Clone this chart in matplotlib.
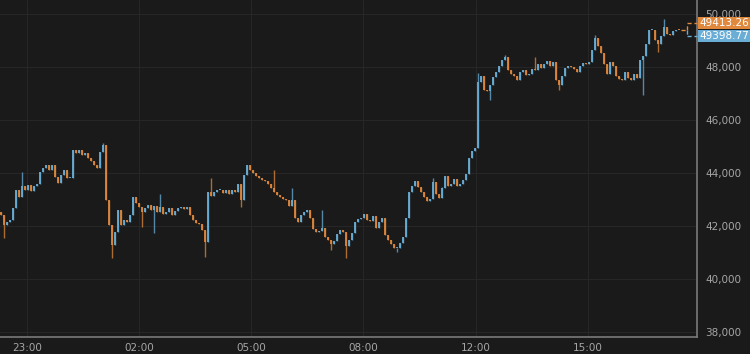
import matplotlib
matplotlib.use('Agg')
import matplotlib.pyplot as plt
from matplotlib.lines import Line2D
from matplotlib.patches import Rectangle

# close price of each candle (open = previous close)
closes = [
    42420, 42040, 42150, 42230, 42680, 43360, 43100, 43510, 43360, 43550,
    43320, 43510, 43590, 44040, 44190, 44300, 44110, 44300, 43850, 43620,
    43930, 44110, 43810, 43810, 44870, 44760, 44870, 44680, 44760, 44570,
    44450, 44300, 44190, 44790, 45060, 42980, 42040, 41280, 41770, 42600,
    42040, 42230, 42150, 42420, 43100, 42870, 42720, 42530, 42680, 42790,
    42600, 42760, 42530, 42720, 42450, 42530, 42680, 42420, 42570, 42680,
    42720, 42640, 42720, 42420, 42230, 42110, 42080, 41850, 41400, 43280,
    43130, 43280, 43360, 43360, 43250, 43360, 43210, 43360, 43280, 43590,
    42980, 43930, 44300, 44110, 44000, 43890, 43810, 43740, 43700, 43590,
    43430, 43280, 43170, 43100, 43020, 42980, 42760, 42980, 42300, 42150,
    42420, 42530, 42600, 42300, 41890, 41770, 41810, 41920, 41590, 41470,
    41320, 41430, 41700, 41850, 41770, 41250, 41470, 41740, 42150, 42260,
    42300, 42450, 42230, 42190, 42380, 41920, 42150, 42300, 41660, 41470,
    41320, 41170, 41170, 41360, 41590, 42300, 43280, 43510, 43700, 43470,
    43280, 43100, 42940, 43020, 43660, 43210, 43060, 43430, 43890, 43510,
    43590, 43770, 43510, 43590, 43740, 43960, 44570, 44830, 44940, 47440,
    47660, 47130, 47100, 47320, 47620, 47810, 48040, 48270, 48380, 47890,
    47740, 47660, 47510, 47810, 47890, 47700, 47740, 47930, 47890, 48110,
    47960, 48110, 48230, 48040, 48190, 47510, 47320, 47660, 47960, 48040,
    48000, 47930, 47810, 48040, 48150, 48110, 48190, 48640, 49100, 48790,
    48530, 48110, 47740, 48190, 48040, 47660, 47550, 47510, 47810, 47590,
    47510, 47740, 47590, 48270, 48420, 48870, 49400, 49400, 49020, 48870,
    49170, 49510, 49250, 49210, 49360, 49400, 49399,
]
first_open = 42520

# long wicks that stick out of the bodies: candle index -> (high, low)
wicks = {
    1: (None, 41550), 7: (44040, None), 34: (45130, None), 37: (None, 40790),
    47: (None, 41960), 51: (None, 41740), 53: (43210, None), 68: (None, 40830),
    70: (43810, None), 80: (None, 42720), 91: (44110, None), 97: (43430, None),
    107: (42600, None), 110: (None, 41100), 115: (None, 40790), 132: (None, 41020),
    144: (43810, None), 147: (43470, None), 159: (47770, None), 163: (None, 46760),
    168: (48450, None), 178: (48380, None), 186: (None, 47130), 198: (49210, None),
    214: (None, 46940), 219: (None, 48570), 221: (49810, None),
}

tick_labels = ['23:00', '02:00', '05:00', '08:00', '12:00', '15:00']
tick_index = [8.7, 46.0, 83.3, 120.7, 158.3, 195.7]
y_ticks = [38000, 40000, 42000, 44000, 46000, 48000, 50000]

ask_price = 49413.26
bid_price = 49398.77

BG = '#1a1a1a'
UP = '#6aaed6'
DOWN = '#e0883c'
GRID = '#262626'
SPINE = '#7a7a7a'
TXT = '#a6a6a6'

fig = plt.figure(figsize=(7.5, 3.54), dpi=100, facecolor=BG)
ax = fig.add_axes([0, 17 / 354, 697 / 750, 337 / 354], facecolor=BG)

# candles
opens = [first_open] + closes[:-1]
for i, (o, c) in enumerate(zip(opens, closes)):
    col = UP if c >= o else DOWN
    hi, lo = max(o, c), min(o, c)
    if i in wicks:
        h, l = wicks[i]
        hi = h if h is not None else hi
        lo = l if l is not None else lo
    ax.vlines(i, lo, hi, color=col, linewidth=1.0, alpha=0.75, zorder=2)
    ax.add_patch(Rectangle((i - 0.45, min(o, c)), 0.9, max(abs(c - o), 30),
                           facecolor=col, edgecolor='none', alpha=0.9, zorder=3))

ax.set_xlim(-0.33, 232)
ax.set_ylim(37811, 50528)

ax.set_xticks(tick_index)
ax.set_xticklabels(tick_labels)
ax.set_yticks(y_ticks)
ax.set_yticklabels([f'{v:,}' for v in y_ticks])
ax.yaxis.tick_right()
ax.tick_params(axis='both', length=0, colors=TXT, labelsize=7.5)
ax.tick_params(axis='y', pad=6)
ax.tick_params(axis='x', pad=4)

ax.grid(True, color=GRID, linewidth=0.8, zorder=0)
for side in ['left', 'top']:
    ax.spines[side].set_visible(False)
for side in ['right', 'bottom']:
    ax.spines[side].set_color(SPINE)
    ax.spines[side].set_linewidth(1.2)


def fy(v):
    # data y -> figure fraction
    return fig.transFigure.inverted().transform(ax.transData.transform((0, v)))[1]


# price tags on the right edge, joined to the last price by dashed lines
last_y = fy(closes[-1])
tag_h = 12 / 354
ask_y = last_y + 7 / 354
bid_y = last_y - 6 / 354
xr = 697 / 750
xj = 687 / 750
dash = (0, (3, 2))
fig.add_artist(Line2D([681 / 750, xj], [last_y, last_y], color=DOWN, lw=1, ls=dash))
fig.add_artist(Line2D([xj, xj], [last_y, ask_y], color=DOWN, lw=1, ls=dash))
fig.add_artist(Line2D([xj, xr], [ask_y, ask_y], color=DOWN, lw=1, ls=dash))
fig.add_artist(Line2D([xj, xj], [last_y, bid_y], color=UP, lw=1, ls=dash))
fig.add_artist(Line2D([xj, xr], [bid_y, bid_y], color=UP, lw=1, ls=dash))

fig.add_artist(Rectangle((xr + 1 / 750, ask_y - tag_h / 2), 53 / 750, tag_h,
                         transform=fig.transFigure, facecolor=DOWN, edgecolor='none',
                         zorder=5))
fig.add_artist(Rectangle((xr + 1 / 750, bid_y - tag_h / 2), 53 / 750, tag_h,
                         transform=fig.transFigure, facecolor=UP, edgecolor='none',
                         zorder=5))
fig.text(xr + 27 / 750, ask_y, f'{ask_price:.2f}', color='white', fontsize=7.5,
         ha='center', va='center', zorder=6)
fig.text(xr + 27 / 750, bid_y, f'{bid_price:.2f}', color='white', fontsize=7.5,
         ha='center', va='center', zorder=6)

fig.savefig('out.png', dpi=100, facecolor=BG)
